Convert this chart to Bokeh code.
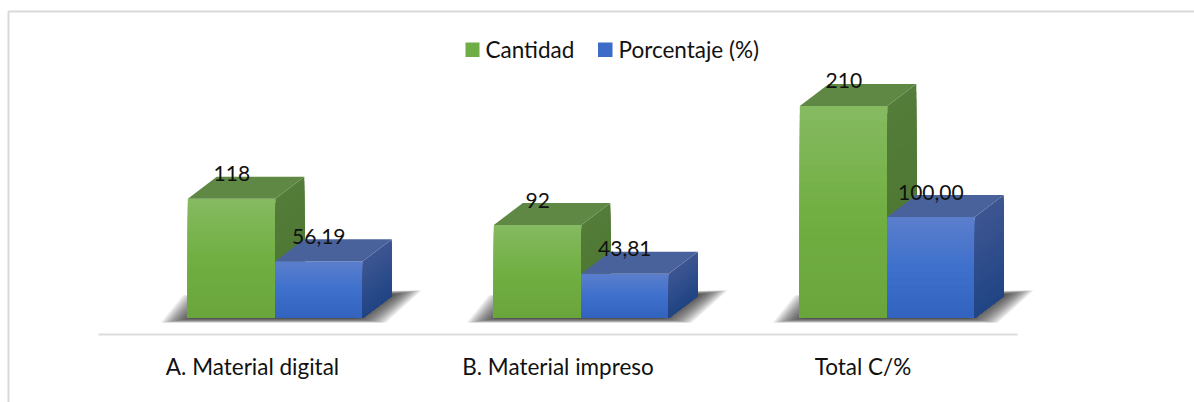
from bokeh.plotting import figure
from bokeh.embed import file_html
from bokeh.resources import INLINE
from bokeh.core.properties import value

categories = ["A. Material digital", "B. Material impreso", "Total C/%"]
cantidad = [118, 92, 210]
porcentaje = [56.19, 43.81, 100.00]
cantidad_labels = ["118", "92", "210"]
porcentaje_labels = ["56,19", "43,81", "100,00"]
series_names = ["Cantidad", "Porcentaje (%)"]

W, H = 1194, 402
PXX, PXY = 306.0, 1.01
x0_px, y0_px = 274.8, 317.5     # group 0 centre / baseline on the page
BW = 87.5 / PXX
DX, DY = 29 / PXX, 22 / PXY

def X(px): return (px - x0_px) / PXX
def Y(py): return (y0_px - py) / PXY

p = figure(width=W, height=H, output_backend="svg", toolbar_location=None,
           x_range=(X(0), X(W)), y_range=(Y(H), Y(0)),
           min_border=0, min_border_left=0, min_border_right=0, min_border_top=0, min_border_bottom=0,
           outline_line_color=None)
p.axis.visible = False
p.grid.visible = False
p.background_fill_color = "white"
p.border_fill_color = "white"

def mix(a, b, t):
    return "#%02x%02x%02x" % tuple(round(a[i] + (b[i] - a[i]) * t) for i in range(3))

def ramp(stops, t):
    for (t0, c0), (t1, c1) in zip(stops, stops[1:]):
        if t <= t1:
            return mix(c0, c1, (t - t0) / (t1 - t0))
    return mix(stops[-1][1], stops[-1][1], 0)

GREEN_F = [(0, (134, 186, 98)), (0.5, (113, 175, 66)), (1, (106, 165, 60))]
BLUE_F = [(0, (92, 127, 204)), (0.5, (62, 112, 204)), (1, (50, 99, 190))]
GREEN_S = [(0, (84, 124, 58)), (1, (74, 118, 46))]
BLUE_S = [(0, (62, 86, 146)), (1, (32, 68, 132))]
GREEN_T = (94, 136, 68)
BLUE_T = (74, 98, 155)

def shadow(xl, xr):
    # soft ground shadow: many nested translucent parallelograms, darkest next to the bars
    n = 22
    for k in range(n):
        g = (n - k - 8) * 1.5 / PXX
        gy = (n - k) * 0.22 / PXY
        xs = [xl - 6 / PXX - g, xr + 2 / PXX + g, xr + DX + 9 / PXX + g, xl + 16 / PXX - g]
        ys = [-gy, -gy, DY + 1 / PXY + gy, DY - 4 / PXY + gy]
        p.patch(xs, ys, fill_color="#2a2a2a", fill_alpha=0.07, line_color=None)

def bar(xl, v, front, side, top):
    xr = xl + BW
    n = 28
    # each strip runs down to the base and the next one paints over it: no seams
    for k in range(n):
        y1 = v * (1 - k / n)
        p.quad(left=xl, right=xr, bottom=0, top=y1, fill_color=ramp(front, (k + 0.5) / n), line_color=None)
    for k in range(n):
        y1 = v * (1 - k / n)
        c = ramp(side, (k + 0.5) / n)
        p.patch([xr, xr + DX, xr + DX, xr], [0, DY, y1 + DY, y1], fill_color=c, line_color=None)
    p.patch([xl, xr, xr + DX, xl + DX], [v, v, v + DY, v + DY], fill_color=mix(top, top, 0), line_color=None)

for i in range(len(categories)):
    shadow(i - BW, i + BW)
for i, (a, b) in enumerate(zip(cantidad, porcentaje)):
    bar(i - BW, a, GREEN_F, GREEN_S, GREEN_T)
    bar(i, b, BLUE_F, BLUE_S, BLUE_T)

# baseline
p.line([X(98), X(1017)], [Y(334), Y(334)], line_color="#dcdcdc", line_width=2)

# frame
p.line([X(8), X(8), X(W)], [Y(H), Y(11), Y(11)], line_color="#d9d9d9", line_width=2)

FONT = value("Lato")
TC = "#111111"
p.text([i - BW + 44 / PXX for i in range(3)], [v + 25 / PXY for v in cantidad], text=cantidad_labels,
       text_font=FONT, text_font_size="21px", text_color=TC, text_align="center", text_baseline="middle")
p.text([i + 43.5 / PXX for i in range(3)], [v + 25 / PXY for v in porcentaje], text=porcentaje_labels,
       text_font=FONT, text_font_size="21px", text_color=TC, text_align="center", text_baseline="middle")
p.text([X(252), X(557.5), X(862.5)], [Y(366)] * 3, text=categories, text_font=FONT, text_font_size="22.5px",
       text_color=TC, text_align="center", text_baseline="middle")

# legend
p.quad(left=[X(465)], right=[X(479)], bottom=[Y(56.5)], top=[Y(42)], fill_color="#6fad47", line_color=None)
p.quad(left=[X(597.5)], right=[X(612)], bottom=[Y(56.5)], top=[Y(42)], fill_color="#3c6cc8", line_color=None)
p.text([X(485), X(618)], [Y(49)] * 2, text=series_names, text_font=FONT, text_font_size="22.5px", text_color=TC,
       text_align="left", text_baseline="middle")

open("out.html", "w").write(file_html(p, INLINE))
